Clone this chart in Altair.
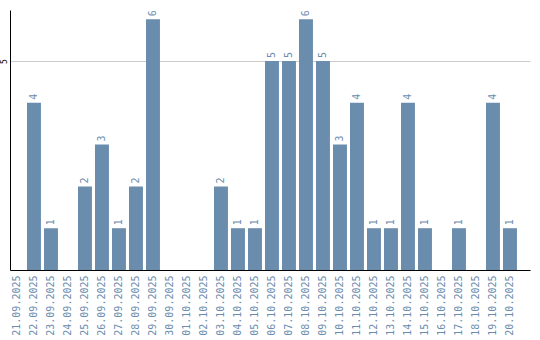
import altair as alt
import pandas as pd

dates = ["21.09.2025", "22.09.2025", "23.09.2025", "24.09.2025", "25.09.2025",
         "26.09.2025", "27.09.2025", "28.09.2025", "29.09.2025", "30.09.2025",
         "01.10.2025", "02.10.2025", "03.10.2025", "04.10.2025", "05.10.2025",
         "06.10.2025", "07.10.2025", "08.10.2025", "09.10.2025", "10.10.2025",
         "11.10.2025", "12.10.2025", "13.10.2025", "14.10.2025", "15.10.2025",
         "16.10.2025", "17.10.2025", "18.10.2025", "19.10.2025", "20.10.2025"]
counts = [0, 4, 1, 0, 2, 3, 1, 2, 6, 0,
          0, 0, 2, 1, 1, 5, 5, 6, 5, 3,
          4, 1, 1, 4, 1, 0, 1, 0, 4, 1]

df = pd.DataFrame({"date": dates, "count": counts})
df = df[df["count"] > 0]

COLOR = "#6a8cad"
MONO = "DejaVu Sans Mono"

x = alt.X("date:N", sort=dates,
          scale=alt.Scale(domain=dates, paddingInner=0.18, paddingOuter=0.384, align=0),
          axis=alt.Axis(title=None, labelAngle=-90, labelColor=COLOR, labelFont=MONO,
                        labelFontSize=10, ticks=False, labelPadding=5,
                        domainColor="black", domainWidth=1))
y = alt.Y("count:Q", scale=alt.Scale(domain=[0, 6.22], nice=False),
          axis=alt.Axis(title=None, values=[5], labelAngle=-90, labelFont=MONO,
                        labelFontSize=8, labelColor="black", ticks=False,
                        labelPadding=2, gridColor="#cccccc", domainColor="black",
                        labelAlign="center", labelBaseline="bottom"))

base = alt.Chart(df)
bars = base.mark_bar(color=COLOR).encode(x=x, y=y)
labels = base.mark_text(angle=270, align="left", baseline="middle", dx=3,
                        font=MONO, fontSize=10, color=COLOR).encode(
    x=alt.X("date:N", sort=dates), y="count:Q", text="count:Q")

chart = (bars + labels).properties(
    width=520, height=260,
    background="white",
    autosize=alt.AutoSizeParams(type="none"),
    padding={"left": 10, "top": 10, "right": 10, "bottom": 70},
).configure_view(stroke=None)

chart.save("out.html", embed_options={"renderer": "svg", "actions": False})
